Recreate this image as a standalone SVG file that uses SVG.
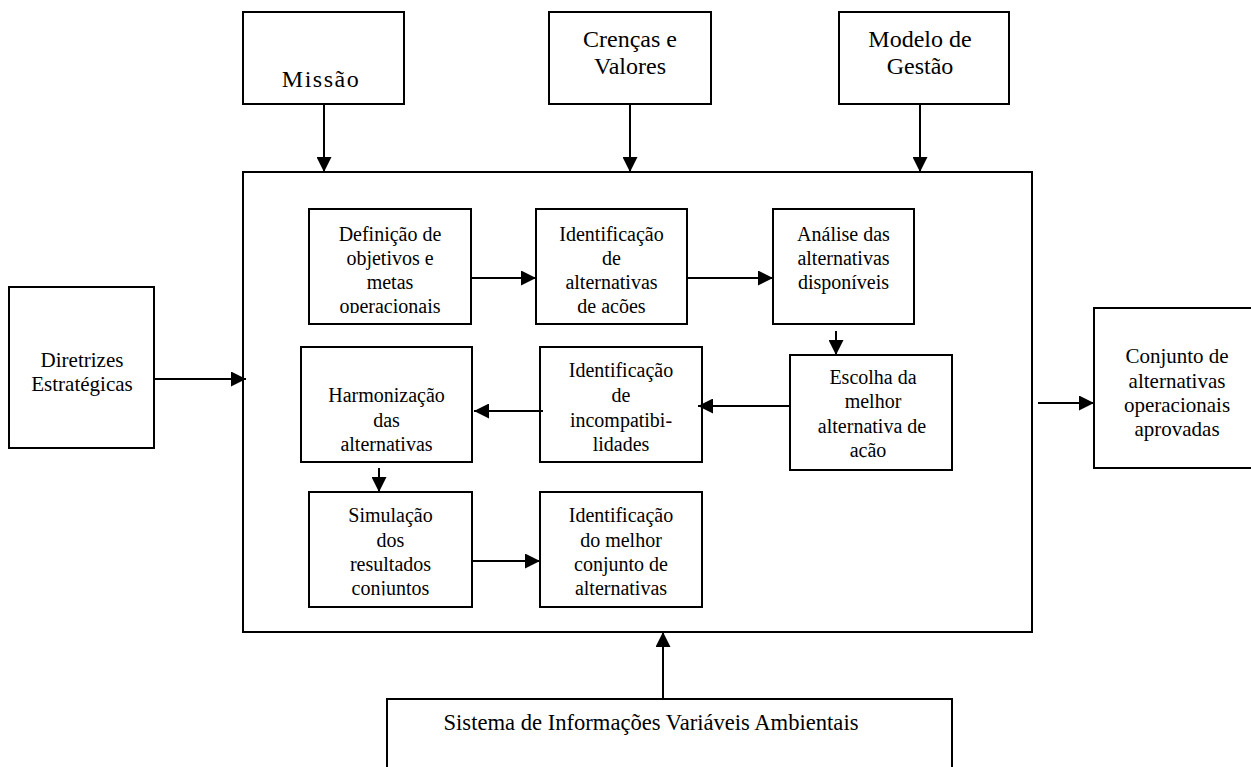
<svg xmlns="http://www.w3.org/2000/svg" width="1251" height="767" viewBox="0 0 1251 767">
  <style>
    .box { fill: #ffffff; stroke: #000000; stroke-width: 2; }
    .frame { fill: none; stroke: #000000; stroke-width: 2; }
    .lbl { font-family: "Liberation Serif", "Times New Roman", serif; fill: #000000; text-anchor: middle; }
    .big { font-size: 24px; }
    .mid { font-size: 21px; }
    .sm { font-size: 20px; }
    .link { fill: none; stroke: #000000; stroke-width: 2; marker-end: url(#head); }
  </style>
  <defs>
    <marker id="head" markerUnits="userSpaceOnUse" markerWidth="16" markerHeight="15" refX="15" refY="7.5" orient="auto">
      <path d="M0,0 L15,7.5 L0,15 Z" fill="#000000"/>
    </marker>
    <!-- text areas that cut off the last line at its baseline -->
    <clipPath id="clipDef" clipPathUnits="userSpaceOnUse"><rect x="309" y="209" width="162" height="104"/></clipPath>
    <clipPath id="clipAlt" clipPathUnits="userSpaceOnUse"><rect x="536" y="209" width="151" height="104"/></clipPath>
    <clipPath id="clipEsc" clipPathUnits="userSpaceOnUse"><rect x="790" y="355" width="162" height="102.5"/></clipPath>
    <clipPath id="clipSim" clipPathUnits="userSpaceOnUse"><rect x="309" y="492" width="163" height="103.5"/></clipPath>
    <clipPath id="clipMel" clipPathUnits="userSpaceOnUse"><rect x="540" y="492" width="162" height="103.5"/></clipPath>
  </defs>

  <rect width="1251" height="767" fill="#ffffff"/>

  <!-- outer planning frame -->
  <g id="planning-frame">
    <rect class="frame" x="243" y="172" width="789" height="460"/>
  </g>

  <!-- inputs on top -->
  <g id="missao">
    <rect class="box" x="243" y="12" width="161" height="92"/>
    <text class="lbl big" x="321" y="87" letter-spacing="1.5">Missão</text>
  </g>
  <g id="crencas">
    <rect class="box" x="549" y="12" width="162" height="92"/>
    <text class="lbl big" x="630" y="47">Crenças e</text>
    <text class="lbl big" x="630" y="74">Valores</text>
  </g>
  <g id="modelo">
    <rect class="box" x="839" y="12" width="170" height="92"/>
    <text class="lbl big" x="920" y="47">Modelo de</text>
    <text class="lbl big" x="920" y="74">Gestão</text>
  </g>

  <!-- left input -->
  <g id="diretrizes">
    <rect class="box" x="9" y="287" width="145" height="161"/>
    <text class="lbl mid" x="82" y="367">Diretrizes</text>
    <text class="lbl mid" x="82" y="391">Estratégicas</text>
  </g>

  <!-- right output -->
  <g id="conjunto">
    <rect class="box" x="1094" y="308" width="170" height="160"/>
    <text class="lbl mid" x="1177" y="363">Conjunto de</text>
    <text class="lbl mid" x="1177" y="388">alternativas</text>
    <text class="lbl mid" x="1177" y="412">operacionais</text>
    <text class="lbl mid" x="1177" y="436">aprovadas</text>
  </g>

  <!-- bottom input -->
  <g id="sistema">
    <rect class="box" x="387" y="699" width="565" height="100"/>
    <text class="lbl" font-size="22.6" x="651" y="730">Sistema de Informações Variáveis Ambientais</text>
  </g>

  <!-- process steps -->
  <g id="definicao">
    <rect class="box" x="309" y="209" width="162" height="115"/>
    <g clip-path="url(#clipDef)">
      <text class="lbl sm" x="390" y="241" font-size="20.8">Definição de</text>
      <text class="lbl sm" x="390" y="265">objetivos e</text>
      <text class="lbl sm" x="390" y="289">metas</text>
      <text class="lbl sm" x="390" y="313">operacionais</text>
    </g>
  </g>
  <g id="identificacao-alternativas">
    <rect class="box" x="536" y="209" width="151" height="115"/>
    <g clip-path="url(#clipAlt)">
      <text class="lbl sm" x="611.5" y="241">Identificação</text>
      <text class="lbl sm" x="611.5" y="265">de</text>
      <text class="lbl sm" x="611.5" y="289">alternativas</text>
      <text class="lbl sm" x="611.5" y="313">de ações</text>
    </g>
  </g>
  <g id="analise">
    <rect class="box" x="773" y="209" width="141" height="115"/>
    <text class="lbl sm" x="843.5" y="241">Análise das</text>
    <text class="lbl sm" x="843.5" y="265">alternativas</text>
    <text class="lbl sm" x="843.5" y="289">disponíveis</text>
  </g>
  <g id="escolha">
    <rect class="box" x="790" y="355" width="162" height="115"/>
    <g clip-path="url(#clipEsc)">
      <text class="lbl sm" x="873" y="384">Escolha da</text>
      <text class="lbl sm" x="873" y="408">melhor</text>
      <text class="lbl sm" x="872" y="433">alternativa de</text>
      <text class="lbl sm" x="868" y="457">ação</text>
    </g>
  </g>
  <g id="incompatibilidades">
    <rect class="box" x="540" y="347" width="162" height="115"/>
    <text class="lbl sm" x="621" y="377">Identificação</text>
    <text class="lbl sm" x="621" y="402">de</text>
    <text class="lbl sm" x="621" y="427">incompatibi-</text>
    <text class="lbl sm" x="621" y="451">lidades</text>
  </g>
  <g id="harmonizacao">
    <rect class="box" x="301" y="347" width="171" height="115"/>
    <text class="lbl sm" x="386.5" y="402">Harmonização</text>
    <text class="lbl sm" x="386.5" y="427">das</text>
    <text class="lbl sm" x="386.5" y="451">alternativas</text>
  </g>
  <g id="simulacao">
    <rect class="box" x="309" y="492" width="163" height="115"/>
    <g clip-path="url(#clipSim)">
      <text class="lbl sm" x="390.5" y="522">Simulação</text>
      <text class="lbl sm" x="390.5" y="547">dos</text>
      <text class="lbl sm" x="390.5" y="571">resultados</text>
      <text class="lbl sm" x="390.5" y="595">conjuntos</text>
    </g>
  </g>
  <g id="melhor-conjunto">
    <rect class="box" x="540" y="492" width="162" height="115"/>
    <g clip-path="url(#clipMel)">
      <text class="lbl sm" x="621" y="522">Identificação</text>
      <text class="lbl sm" x="621" y="547">do melhor</text>
      <text class="lbl sm" x="621" y="571">conjunto de</text>
      <text class="lbl sm" x="621" y="595">alternativas</text>
    </g>
  </g>

  <!-- connectors -->
  <g id="connectors">
    <line class="link" x1="324" y1="104" x2="324" y2="172"/>
    <line class="link" x1="630" y1="104" x2="630" y2="172"/>
    <line class="link" x1="920" y1="104" x2="920" y2="172"/>
    <line class="link" x1="154" y1="379" x2="246" y2="379"/>
    <line class="link" x1="1038" y1="403" x2="1094" y2="403"/>
    <line class="link" x1="663" y1="699" x2="663" y2="632"/>
    <line class="link" x1="471" y1="278" x2="536" y2="278"/>
    <line class="link" x1="687" y1="278" x2="773" y2="278"/>
    <line class="link" x1="836" y1="331" x2="836" y2="355"/>
    <line class="link" x1="790" y1="406" x2="698" y2="406"/>
    <line class="link" x1="543" y1="411" x2="474" y2="411"/>
    <line class="link" x1="379" y1="468" x2="379" y2="492"/>
    <line class="link" x1="472" y1="561" x2="540" y2="561"/>
  </g>
</svg>
